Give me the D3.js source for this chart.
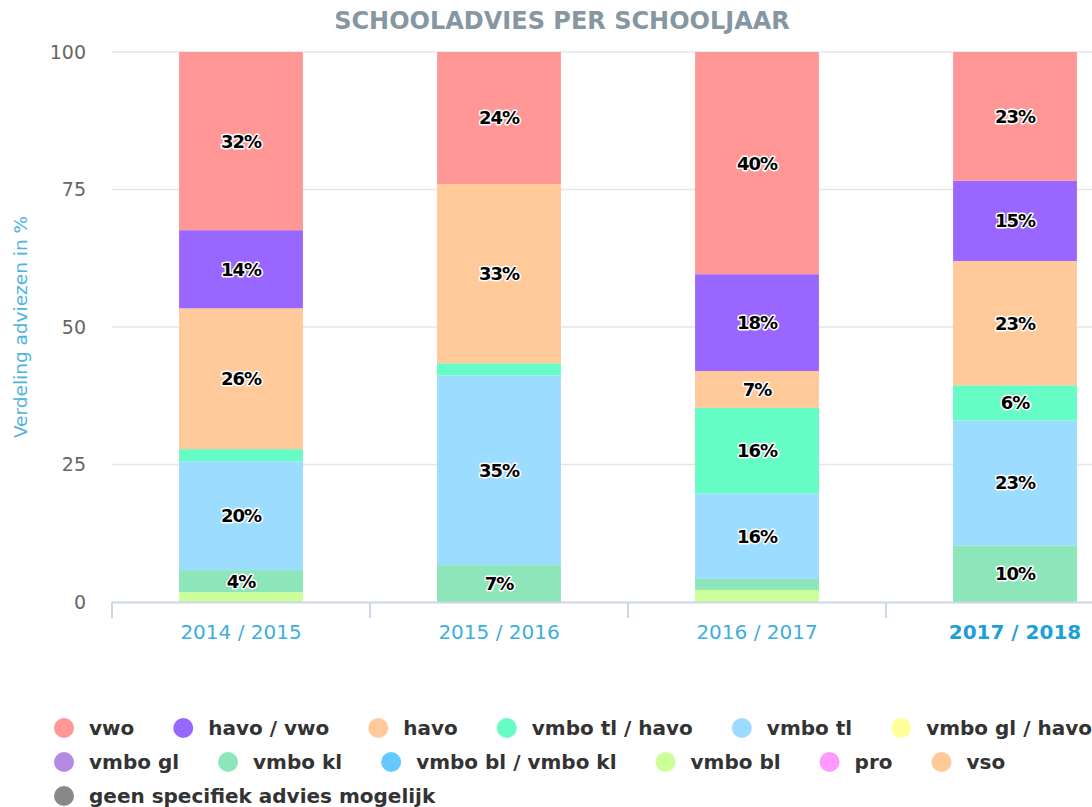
<!DOCTYPE html>
<html>
<head>
<meta charset="utf-8">
<script src="https://cdn.jsdelivr.net/npm/d3@7/dist/d3.min.js"></script>
<style>
  body { margin: 0; background: #fff; overflow: hidden; }
  svg { display: block; font-family: "DejaVu Sans", Verdana, sans-serif; }
</style>
</head>
<body>
<script>
// school years (categories)
var years = ["2014 / 2015", "2015 / 2016", "2016 / 2017", "2017 / 2018"];

// series, in legend order (first one is stacked on top)
var seriesNames = ["vwo", "havo / vwo", "havo", "vmbo tl / havo", "vmbo tl", "vmbo gl / havo",
  "vmbo gl", "vmbo kl", "vmbo bl / vmbo kl", "vmbo bl", "pro", "vso", "geen specifiek advies mogelijk"];
var seriesColors = ["#ff9797", "#9966ff", "#ffc999", "#66fcc6", "#9cdcff", "#ffff99",
  "#b38be3", "#8de6b9", "#66c8ff", "#ccff99", "#ff99ff", "#ffc999", "#888888"];

// percentage per school year
var vwo        = [32.4, 24.0, 40.4, 23.4];
var havoVwo    = [14.2,  0.0, 17.6, 14.6];
var havo       = [25.6, 32.6,  6.7, 22.6];
var vmboTlHavo = [ 2.2,  2.2, 15.6,  6.4];
var vmboTl     = [19.8, 34.5, 15.5, 22.7];
var vmboGlHavo = [ 0.0,  0.0,  0.0,  0.0];
var vmboGl     = [ 0.0,  0.0,  0.0,  0.0];
var vmboKl     = [ 4.0,  6.7,  2.0, 10.3];
var vmboBlKl   = [ 0.0,  0.0,  0.0,  0.0];
var vmboBl     = [ 1.8,  0.0,  2.2,  0.0];
var pro        = [ 0.0,  0.0,  0.0,  0.0];
var vso        = [ 0.0,  0.0,  0.0,  0.0];
var geen       = [ 0.0,  0.0,  0.0,  0.0];

var seriesValues = [vwo, havoVwo, havo, vmboTlHavo, vmboTl, vmboGlHavo, vmboGl,
  vmboKl, vmboBlKl, vmboBl, pro, vso, geen];

var yTicks = [0, 25, 50, 75, 100];

var width = 1092;
var height = 807;

var svg = d3.select("body")
  .append("svg")
  .attr("width", width)
  .attr("height", height);

var plotLeft = 112, plotTop = 52, plotBottom = 602;
var step = 258;

var x = d3.scaleBand()
  .domain(years)
  .range([plotLeft, plotLeft + step * years.length])
  .paddingInner(0.52)
  .paddingOuter(0.26);

var y = d3.scaleLinear()
  .domain([0, 100])
  .range([plotBottom, plotTop]);

// title
svg.append("text")
  .attr("x", 562)
  .attr("y", 29)
  .attr("text-anchor", "middle")
  .style("font-size", "24px")
  .style("font-weight", "bold")
  .style("fill", "#8697a2")
  .text("SCHOOLADVIES PER SCHOOLJAAR");

// grid lines
svg.append("g")
  .selectAll("line")
  .data(yTicks.filter(function(d) { return d > 0; }))
  .enter()
  .append("line")
  .attr("x1", plotLeft)
  .attr("x2", width)
  .attr("y1", function(d) { return y(d); })
  .attr("y2", function(d) { return y(d); })
  .style("stroke", "#e6e6e6")
  .style("stroke-width", 1.5);

// y axis labels
var yAxis = d3.axisLeft(y).tickValues(yTicks).tickSize(0).tickPadding(0);
var yg = svg.append("g")
  .attr("transform", "translate(86,0)")
  .call(yAxis);
yg.select(".domain").remove();
yg.selectAll("text")
  .style("font-size", "19px")
  .style("font-family", "DejaVu Sans, sans-serif")
  .style("fill", "#666");

// y axis title
svg.append("text")
  .attr("transform", "translate(27," + ((plotTop + plotBottom) / 2) + ") rotate(-90)")
  .attr("text-anchor", "middle")
  .style("font-size", "18.5px")
  .style("fill", "#4db3e2")
  .text("Verdeling adviezen in %");

// stack the series: last series sits at the bottom
var tableRows = years.map(function(yr, i) {
  var row = { year: yr };
  seriesNames.forEach(function(n, s) { row[n] = seriesValues[s][i]; });
  return row;
});

var stack = d3.stack().keys(seriesNames.slice().reverse());
var stacked = stack(tableRows);

var layers = svg.append("g")
  .selectAll("g")
  .data(stacked)
  .enter()
  .append("g")
  .style("fill", function(d) { return seriesColors[seriesNames.indexOf(d.key)]; });

layers.selectAll("rect")
  .data(function(d) { return d; })
  .enter()
  .append("rect")
  .attr("x", function(d) { return x(d.data.year); })
  .attr("width", x.bandwidth())
  .attr("y", function(d) { return y(d[1]); })
  .attr("height", function(d) { return y(d[0]) - y(d[1]); });

// data labels
var labels = [];
stacked.forEach(function(layer) {
  layer.forEach(function(d) {
    var v = d[1] - d[0];
    if (v >= 3) labels.push({ year: d.data.year, mid: (d[0] + d[1]) / 2, v: v });
  });
});

svg.append("g")
  .selectAll("text")
  .data(labels)
  .enter()
  .append("text")
  .attr("x", function(d) { return x(d.year) + x.bandwidth() / 2; })
  .attr("y", function(d) { return y(d.mid); })
  .attr("dy", "0.36em")
  .attr("text-anchor", "middle")
  .style("font-size", "18px")
  .style("font-weight", "bold")
  .style("letter-spacing", "-1px")
  .style("fill", "#000")
  .style("stroke", "#fff")
  .style("stroke-width", 3)
  .style("stroke-linejoin", "round")
  .style("paint-order", "stroke")
  .text(function(d) { return Math.round(d.v) + "%"; });

// x axis
svg.append("line")
  .attr("x1", plotLeft)
  .attr("x2", width)
  .attr("y1", plotBottom + 0.5)
  .attr("y2", plotBottom + 0.5)
  .style("stroke", "#ccd6eb")
  .style("stroke-width", 2);

svg.append("g")
  .selectAll("line")
  .data(years)
  .enter()
  .append("line")
  .attr("x1", function(d) { return x(d) - x.step() * 0.26; })
  .attr("x2", function(d) { return x(d) - x.step() * 0.26; })
  .attr("y1", plotBottom)
  .attr("y2", plotBottom + 16)
  .style("stroke", "#ccd6eb")
  .style("stroke-width", 2);

svg.append("g")
  .selectAll("text")
  .data(years)
  .enter()
  .append("text")
  .attr("x", function(d) { return x(d) + x.bandwidth() / 2; })
  .attr("y", 639)
  .attr("text-anchor", "middle")
  .style("font-size", "20px")
  .style("font-weight", function(d, i) { return i === years.length - 1 ? "bold" : "normal"; })
  .style("fill", function(d, i) { return i === years.length - 1 ? "#1f9fd8" : "#3daede"; })
  .text(function(d) { return d; });

// legend
var legend = svg.append("g");
var lx = 54, ly = 728, rowH = 34;
seriesNames.forEach(function(name, i) {
  var item = legend.append("g");
  var t = item.append("text")
    .attr("x", 35)
    .attr("dy", "0.35em")
    .style("font-size", "20px")
    .style("font-weight", "bold")
    .style("fill", "#333")
    .text(name);
  var w = 35 + t.node().getComputedTextLength();
  if (lx + w > width + 10) {
    lx = 54;
    ly += rowH;
  }
  item.attr("transform", "translate(" + lx + "," + ly + ")");
  item.append("circle")
    .attr("cx", 10)
    .attr("cy", 0)
    .attr("r", 10)
    .style("fill", seriesColors[i]);
  lx += w + 39;
});
</script>
</body>
</html>
